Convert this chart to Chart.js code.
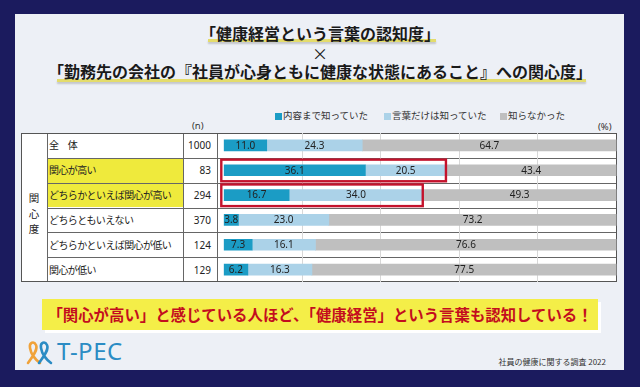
<!DOCTYPE html>
<html><head><meta charset="utf-8">
<script src="https://cdn.jsdelivr.net/npm/chart.js@4"></script>
<style>
html,body{margin:0;padding:0;}
body{width:640px;height:387px;background:#1b1b5e;position:relative;overflow:hidden;font-family:"Noto Sans CJK JP","Noto Sans",sans-serif;color:#222;}
.abs{position:absolute;}
#panel{left:15px;top:14px;width:609px;height:356px;background:#edf0f6;}
.title{left:0;width:640px;text-align:center;font-weight:700;font-size:16px;line-height:20px;color:#1a1a1a;white-space:nowrap;}
.uline{height:3px;background:#e4dc6c;box-shadow:0 2px 2px rgba(0,0,0,0.18);}
.leg{font-size:9.5px;line-height:12px;color:#333;white-space:nowrap;}
.sq{width:7px;height:7px;}
.cell{font-size:10px;letter-spacing:-0.6px;white-space:nowrap;color:#222;}
.num{font-family:"Noto Sans",sans-serif;font-size:10px;text-align:right;color:#222;}
.ln{background:#666;}
#banner{left:42px;top:299px;width:556px;height:31px;background:#f4ee48;box-shadow:3px 3px 0 #ffffff;text-align:center;font-weight:700;font-size:15.4px;line-height:31px;color:#c30d1e;white-space:nowrap;}
#logoText{left:57px;top:336px;font-family:"Noto Sans",sans-serif;font-size:24px;line-height:30px;color:#2b8cc4;letter-spacing:0.5px;}
#foot{left:480px;width:126px;top:356px;text-align:right;font-size:8px;line-height:12px;color:#333;white-space:nowrap;}
</style></head>
<body>
<div id="panel" class="abs"></div>
<div class="abs uline" style="left:208px;top:39px;width:228px;"></div>
<div class="abs uline" style="left:57px;top:79px;width:529px;"></div>
<div class="abs title" style="top:23px;">「健康経営という言葉の認知度」</div>
<div class="abs title" style="top:43px;font-weight:400;">×</div>
<div class="abs title" style="top:61px;">「勤務先の会社の『社員が心身ともに健康な状態にあること』への関心度」</div>
<div id="legend"></div>
<div class="abs leg" style="left:192px;top:120px;font-family:'Noto Sans',sans-serif;">(n)</div>
<div class="abs leg" style="left:598px;top:121px;font-family:'Noto Sans',sans-serif;">(%)</div>
<div id="table"></div>
<canvas id="c" class="abs" width="400" height="149" style="left:217px;top:133px;width:400px;height:149px;"></canvas>
<div id="banner" class="abs">「関心が高い」と感じている人ほど、「健康経営」という言葉も認知している！</div>
<svg class="abs" style="left:25px;top:340px;" width="34" height="26" viewBox="0 0 34 26">
<path d="M3 23 C9 15,13 9,11 5 C9 1,4 2,5 8 C6 14,11 20,15 23" stroke="#f0a23a" stroke-width="2.6" fill="none" stroke-linecap="round"/>
<path d="M14 23 C20 15,24 9,22 5 C20 1,15 2,16 8 C17 14,22 20,26 23" stroke="#2b8cc4" stroke-width="2.6" fill="none" stroke-linecap="round"/>
</svg>
<div id="logoText" class="abs">T-PEC</div>
<div id="foot" class="abs">社員の健康に関する調査 2022</div>
<script>
// ---- data ----
const categories = ["全　体","関心が高い","どちらかといえば関心が高い","どちらともいえない","どちらかといえば関心が低い","関心が低い"];
const sampleN = [1000, 83, 294, 370, 124, 129];
const knewContent = [11.0, 36.1, 16.7, 3.8, 7.3, 6.2];
const knewWordOnly = [24.3, 20.5, 34.0, 23.0, 16.1, 16.3];
const didNotKnow = [64.7, 43.4, 49.3, 73.2, 76.6, 77.5];
const seriesNames = ["内容まで知っていた","言葉だけは知っていた","知らなかった"];
const seriesColors = ["#1b9cc5","#abd2e8","#bfbfbf"];
const highlightRows = [1, 2];

// ---- table (HTML) ----
const T = {x0:21, x1:47, x2:183, x3:217, x4:617, y0:133, y1:282};
const rowH = (T.y1 - T.y0) / categories.length;
let h = '';
h += `<div class="abs" style="left:${T.x0}px;top:${T.y0}px;width:${T.x4-T.x0}px;height:${T.y1-T.y0}px;background:#fff;"></div>`;
highlightRows.forEach(r=>{
  h += `<div class="abs" style="left:${T.x1}px;top:${T.y0+r*rowH}px;width:${T.x2-T.x1}px;height:${rowH}px;background:#efea3c;"></div>`;
});
for (let i=1;i<categories.length;i++){
  h += `<div class="abs ln" style="left:${T.x1}px;top:${Math.round(T.y0+i*rowH)}px;width:${T.x4-T.x1}px;height:1px;"></div>`;
}
[T.x1,T.x2,T.x3].forEach(x=>{ h += `<div class="abs ln" style="left:${x}px;top:${T.y0}px;width:1px;height:${T.y1-T.y0}px;"></div>`; });
h += `<div class="abs" style="left:${T.x0}px;top:${T.y0}px;width:${T.x4-T.x0-2}px;height:${T.y1-T.y0-2}px;border:1px solid #555;"></div>`;
categories.forEach((c,i)=>{
  const yc = T.y0 + (i+0.5)*rowH;
  h += `<div class="abs cell" style="left:49px;top:${yc-7}px;line-height:14px;">${c}</div>`;
  h += `<div class="abs num" style="left:${T.x2}px;width:${T.x3-T.x2-6}px;top:${yc-7}px;line-height:14px;">${sampleN[i]}</div>`;
});
h += `<div class="abs" style="left:${T.x0}px;width:${T.x1-T.x0}px;top:190px;text-align:center;font-size:10.5px;line-height:15.5px;color:#222;">関<br>心<br>度</div>`;
document.getElementById('table').innerHTML = h;

// ---- legend (HTML) ----
const legX = [275, 384, 500];
let lg = '';
seriesNames.forEach((n,i)=>{
  lg += `<div class="abs sq" style="left:${legX[i]}px;top:113px;background:${seriesColors[i]};"></div>`;
  lg += `<div class="abs leg" style="left:${legX[i]+8}px;top:109px;">${n}</div>`;
});
document.getElementById('legend').innerHTML = lg;

// ---- chart ----
const valueLabels = {
  id:'valueLabels',
  afterDatasetsDraw(chart){
    const ctx = chart.ctx; ctx.save();
    ctx.font = '10px "Noto Sans", sans-serif'; ctx.fillStyle = '#222';
    ctx.textAlign = 'center'; ctx.textBaseline = 'middle';
    chart.data.datasets.forEach((ds,i)=>{
      chart.getDatasetMeta(i).data.forEach((bar,j)=>{
        ctx.fillText(ds.data[j].toFixed(1), (bar.x+bar.base)/2, bar.y+0.5);
      });
    });
    ctx.restore();
  }
};
const redBoxes = {
  id:'redBoxes',
  afterDatasetsDraw(chart){
    const ctx = chart.ctx, xs = chart.scales.x, ys = chart.scales.y;
    const rh = (ys.bottom - ys.top) / categories.length;
    ctx.save(); ctx.strokeStyle = '#c4122c'; ctx.lineWidth = 2.4;
    highlightRows.forEach(r=>{
      const x0 = xs.getPixelForValue(0) - 2.2;
      const x1 = xs.getPixelForValue(knewContent[r] + knewWordOnly[r]);
      const yc = ys.getPixelForValue(r);
      ctx.strokeRect(x0, yc - rh/2 + 1.8, x1 - x0, rh - 3.2);
    });
    ctx.restore();
  }
};
new Chart(document.getElementById('c'), {
  type:'bar',
  data:{
    labels: categories,
    datasets:[
      {label:seriesNames[0], data:knewContent, backgroundColor:seriesColors[0]},
      {label:seriesNames[1], data:knewWordOnly, backgroundColor:seriesColors[1]},
      {label:seriesNames[2], data:didNotKnow, backgroundColor:seriesColors[2]}
    ]
  },
  options:{
    indexAxis:'y', responsive:false, animation:false,
    layout:{padding:{left:6.5,right:0.5,top:0,bottom:0}},
    datasets:{bar:{barThickness:11, borderWidth:0}},
    plugins:{legend:{display:false}, tooltip:{enabled:false}},
    scales:{
      x:{stacked:true, min:0, max:100,
         ticks:{display:false, stepSize:20},
         grid:{drawTicks:false, color:(c)=> (c.tick && (c.tick.value===0 || c.tick.value===100)) ? 'rgba(0,0,0,0)' : '#d8d8d8'},
         border:{display:false},
         afterFit:(s)=>{ s.height = 0; }},
      y:{stacked:true, display:false}
    }
  },
  plugins:[valueLabels, redBoxes]
});
</script>
</body></html>
